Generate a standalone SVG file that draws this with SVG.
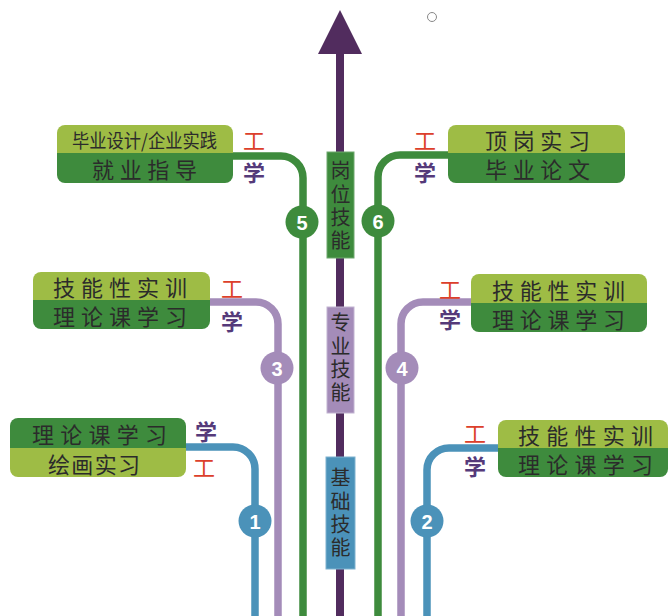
<svg xmlns="http://www.w3.org/2000/svg" width="669" height="616" viewBox="0 0 669 616">
<style>
.lg{fill:#9ebc45}
.dg{fill:#3e8b3d}
.bt{font-family:"Noto Sans CJK SC","Noto Sans",sans-serif;font-size:22px;fill:#2b2b2b;dominant-baseline:central}
.vt{font-family:"Noto Sans CJK SC","Noto Sans",sans-serif;font-size:20px;fill:#2b2b2b;text-anchor:middle;writing-mode:vertical-rl;letter-spacing:3.3px}
.gong{font-family:"Noto Sans CJK SC",sans-serif;font-size:22px;fill:#dc3f2b;text-anchor:middle;dominant-baseline:central}
.xue{font-family:"Noto Sans CJK SC",sans-serif;font-size:22px;font-weight:bold;fill:#553a7a;text-anchor:middle;dominant-baseline:central}
.ln{fill:none;stroke-width:7.5}
.num{font-family:"Liberation Sans",Arial,sans-serif;font-size:20px;font-weight:bold;fill:#fff;text-anchor:middle;dominant-baseline:central}
</style>
<rect width="669" height="616" fill="#fff"/>
<circle cx="432" cy="17" r="4.5" fill="none" stroke="#888" stroke-width="1"/>
<g id="axis">
<line x1="340" y1="50" x2="340" y2="616" stroke="#512c5e" stroke-width="8"/>
<polygon points="340,10 362,54 318,54" fill="#512c5e"/>
</g>
<g id="connectors">
<path class="ln" stroke="#3e8b3d" d="M233,156 H281 A22,22 0 0 1 303,178 V616"/>
<path class="ln" stroke="#3e8b3d" d="M448,155 H400 A22,22 0 0 0 378,177 V616"/>
<path class="ln" stroke="#a48cb9" d="M210,302 H256 A22,22 0 0 1 278,324 V616"/>
<path class="ln" stroke="#a48cb9" d="M471,302 H423 A22,22 0 0 0 401,324 V616"/>
<path class="ln" stroke="#4b92b9" d="M186,447 H233 A22,22 0 0 1 255,469 V616"/>
<path class="ln" stroke="#4b92b9" d="M498,448 H449 A22,22 0 0 0 427,470 V616"/>
<circle cx="302" cy="222" r="16.5" fill="#3e8b3d"/><text class="num" x="302" y="223">5</text>
<circle cx="378" cy="221" r="16.5" fill="#3e8b3d"/><text class="num" x="378" y="222">6</text>
<circle cx="277" cy="368" r="16.5" fill="#a48cb9"/><text class="num" x="277" y="369">3</text>
<circle cx="402" cy="368" r="16.5" fill="#a48cb9"/><text class="num" x="402" y="369">4</text>
<circle cx="255" cy="521" r="16.5" fill="#4b92b9"/><text class="num" x="255" y="522">1</text>
<circle cx="427" cy="521" r="16.5" fill="#4b92b9"/><text class="num" x="427" y="522">2</text>
</g>
<g id="stage-post">
<rect x="327" y="152" width="27" height="106" fill="#3e8b3d" stroke="#6fa86e" stroke-width="1"/>
<text class="vt" x="340.5" y="207.5">岗位技能</text>
</g>
<g id="stage-pro">
<rect x="327" y="307" width="27" height="106" fill="#a48cb9" stroke="#c2b3d1" stroke-width="1"/>
<text class="vt" x="340.5" y="359.5">专业技能</text>
</g>
<g id="stage-base">
<rect x="326" y="457" width="29" height="112" fill="#4b92b9" stroke="#7fb2cf" stroke-width="1"/>
<text class="vt" x="340.5" y="514.5">基础技能</text>
</g>
<g id="node5">
<path class="lg" d="M57,153 V133 A8,8 0 0 1 65,125 H225 A8,8 0 0 1 233,133 V153 Z"/>
<path class="dg" d="M57,153 H233 V175 A8,8 0 0 1 225,183 H65 A8,8 0 0 1 57,175 Z"/>
<text class="bt" x="72" y="139" style="font-size:19px" textLength="145" lengthAdjust="spacingAndGlyphs">毕业设计/企业实践</text>
<text class="bt" x="92" y="168" textLength="105" lengthAdjust="spacing">就业指导</text>
<text class="gong" x="254" y="139">工</text><text class="xue" x="254" y="171">学</text>
</g>
<g id="node6">
<path class="lg" d="M448,153 V133 A8,8 0 0 1 456,125 H617 A8,8 0 0 1 625,133 V153 Z"/>
<path class="dg" d="M448,153 H625 V175 A8,8 0 0 1 617,183 H456 A8,8 0 0 1 448,175 Z"/>
<text class="bt" x="485" y="139" textLength="105" lengthAdjust="spacing">顶岗实习</text>
<text class="bt" x="485" y="168" textLength="105" lengthAdjust="spacing">毕业论文</text>
<text class="gong" x="425" y="139">工</text><text class="xue" x="425" y="171">学</text>
</g>
<g id="node3">
<path class="lg" d="M33,300 V280 A8,8 0 0 1 41,272 H202 A8,8 0 0 1 210,280 V300 Z"/>
<path class="dg" d="M33,300 H210 V321 A8,8 0 0 1 202,329 H41 A8,8 0 0 1 33,321 Z"/>
<text class="bt" x="53" y="285.5" textLength="134" lengthAdjust="spacing">技能性实训</text>
<text class="bt" x="53" y="315" textLength="134" lengthAdjust="spacing">理论课学习</text>
<text class="gong" x="232" y="287">工</text><text class="xue" x="232" y="320">学</text>
</g>
<g id="node4">
<path class="lg" d="M471,303 V282 A8,8 0 0 1 479,274 H639 A8,8 0 0 1 647,282 V303 Z"/>
<path class="dg" d="M471,303 H647 V324 A8,8 0 0 1 639,332 H479 A8,8 0 0 1 471,324 Z"/>
<text class="bt" x="492" y="288.5" textLength="133" lengthAdjust="spacing">技能性实训</text>
<text class="bt" x="492" y="317.5" textLength="133" lengthAdjust="spacing">理论课学习</text>
<text class="gong" x="450" y="288">工</text><text class="xue" x="450" y="318">学</text>
</g>
<g id="node1">
<path class="dg" d="M10,448 V426 A8,8 0 0 1 18,418 H178 A8,8 0 0 1 186,426 V448 Z"/>
<path class="lg" d="M10,448 H186 V469 A8,8 0 0 1 178,477 H18 A8,8 0 0 1 10,469 Z"/>
<text class="bt" x="32" y="433" textLength="135" lengthAdjust="spacing">理论课学习</text>
<text class="bt" x="48" y="462.5" textLength="92" lengthAdjust="spacing">绘画实习</text>
<text class="xue" x="206" y="430">学</text><text class="gong" x="204" y="466">工</text>
</g>
<g id="node2">
<path class="lg" d="M498,448 V428 A8,8 0 0 1 506,420 H660 A8,8 0 0 1 668,428 V448 Z"/>
<path class="dg" d="M498,448 H668 V469 A8,8 0 0 1 660,477 H506 A8,8 0 0 1 498,469 Z"/>
<text class="bt" x="518" y="433.5" textLength="135" lengthAdjust="spacing">技能性实训</text>
<text class="bt" x="518" y="463" textLength="135" lengthAdjust="spacing">理论课学习</text>
<text class="gong" x="475" y="432">工</text><text class="xue" x="475" y="465">学</text>
</g>
</svg>
